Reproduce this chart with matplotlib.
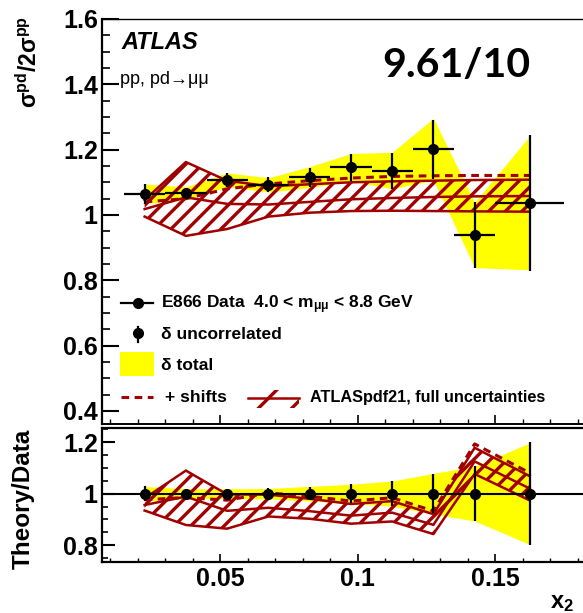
import matplotlib
matplotlib.use("Agg")
import matplotlib.pyplot as plt
import numpy as np
from matplotlib.lines import Line2D
from matplotlib.patches import Rectangle
from matplotlib.ticker import MultipleLocator, FuncFormatter

plt.rcParams["font.family"] = ["Liberation Sans", "DejaVu Sans"]
plt.rcParams["mathtext.default"] = "regular"
plt.rcParams["hatch.linewidth"] = 2.4

RED = "#a00000"
YELLOW = "#ffff00"

# E866 pd/2pp data
x2 = [0.0225, 0.0375, 0.0525, 0.0675, 0.0825, 0.0975, 0.1125, 0.1275, 0.1425, 0.1625]
x2_err = [0.0075, 0.0075, 0.0075, 0.0075, 0.0075, 0.0075, 0.0075, 0.0075, 0.0075, 0.0125]
ratio_data = [1.065, 1.066, 1.108, 1.092, 1.116, 1.146, 1.136, 1.201, 0.939, 1.037]
err_unc = [0.031, 0.018, 0.021, 0.023, 0.029, 0.042, 0.055, 0.090, 0.100, 0.209]
err_tot = [0.030, 0.020, 0.021, 0.022, 0.032, 0.042, 0.056, 0.095, 0.100, 0.205]

# ATLASpdf21 prediction
shifts = [1.040, 1.050, 1.080, 1.095, 1.105, 1.113, 1.118, 1.120, 1.121, 1.121]
pdf_up = [1.046, 1.162, 1.105, 1.088, 1.094, 1.100, 1.103, 1.105, 1.107, 1.108]
pdf_mid = [1.018, 1.054, 1.034, 1.032, 1.040, 1.048, 1.052, 1.055, 1.057, 1.058]
pdf_dn = [0.995, 0.936, 0.957, 0.995, 1.007, 1.012, 1.013, 1.012, 1.011, 1.010]

chi2_label = "9.61/10"

x = np.array(x2)
val = np.array(ratio_data)
unc = np.array(err_unc)
tot = np.array(err_tot)

W, H = 583, 613
fig = plt.figure(figsize=(W / 100, H / 100), dpi=100)


def fbox(l, t, r, b):
    return [l / W, 1 - b / H, (r - l) / W, (b - t) / H]


def fx(px):
    return px / W


def fy(py):
    return 1 - py / H


ax = fig.add_axes(fbox(102, 19, 598.4, 424))
axr = fig.add_axes(fbox(102, 427.7, 598.4, 561.7))


def draw_band(a, up, mid, dn):
    a.fill_between(x, dn, up, facecolor="none", edgecolor=RED, hatch="//", lw=0, zorder=2)
    for y in (up, mid, dn):
        a.plot(x, y, color=RED, lw=1.8, zorder=3)


# top panel
ax.fill_between(x, val - tot, val + tot, color=YELLOW, lw=0, zorder=1)
draw_band(ax, pdf_up, pdf_mid, pdf_dn)
ax.plot(x, shifts, color=RED, lw=2.2, ls=(0, (2.5, 1.8)), zorder=4)
ax.errorbar(x, val, xerr=x2_err, yerr=unc, fmt="o", color="k", ms=7,
            elinewidth=1.6, capsize=0, zorder=5)

# ratio panel
axr.fill_between(x, 1 - tot / val, 1 + tot / val, color=YELLOW, lw=0, zorder=1)
draw_band(axr, np.array(pdf_up) / val, np.array(pdf_mid) / val, np.array(pdf_dn) / val)
axr.plot(x, np.array(shifts) / val, color=RED, lw=2.2, ls=(0, (2.5, 1.8)), zorder=4)
axr.axhline(1, color="k", lw=1.5, zorder=5)
axr.errorbar(x, np.ones_like(x), yerr=unc / val, fmt="o", color="k", ms=7,
             elinewidth=1.6, capsize=0, zorder=6)

fmt = FuncFormatter(lambda v, p: "%g" % round(v, 3))
for a in (ax, axr):
    a.set_xlim(0.007, 0.1875)
    a.xaxis.set_major_locator(MultipleLocator(0.05))
    a.xaxis.set_minor_locator(MultipleLocator(0.01))
    a.yaxis.set_major_locator(MultipleLocator(0.2))
    a.yaxis.set_minor_locator(MultipleLocator(0.05))
    a.xaxis.set_major_formatter(fmt)
    a.yaxis.set_major_formatter(fmt)
    a.spines["right"].set_visible(False)
    a.tick_params(which="both", direction="in", top=False, right=False)

ax.set_ylim(0.36, 1.6)
axr.set_ylim(0.735, 1.257)

ax.tick_params(axis="y", which="major", length=12, width=1.5, labelsize=18, pad=3)
ax.tick_params(axis="y", which="minor", length=6, width=1.2)
ax.tick_params(axis="x", which="major", length=6.5, width=1.2, labelbottom=False)
ax.tick_params(axis="x", which="minor", length=3.5, width=1.0)
axr.tick_params(axis="y", which="major", length=9.5, width=1.5, labelsize=18, pad=3)
axr.tick_params(axis="y", which="minor", length=4.5, width=1.2)
axr.tick_params(axis="x", which="major", length=6, width=1.2, labelsize=18, pad=4)
axr.tick_params(axis="x", which="minor", length=3, width=1.0)

ax.spines["top"].set_linewidth(1.0)
ax.spines["left"].set_linewidth(1.6)
ax.spines["bottom"].set_linewidth(1.4)
for s in ("top", "left", "bottom"):
    axr.spines[s].set_linewidth(1.6)

for lab in ax.get_yticklabels() + axr.get_yticklabels() + axr.get_xticklabels():
    lab.set_fontweight("bold")

# axis titles
fig.text(fx(29), fy(16), r"$\sigma^{pd}$/2$\sigma^{pp}$", rotation=90, ha="center",
         va="top", fontsize=16.5, fontweight="bold")
fig.text(fx(23), fy(499), "Theory/Data", rotation=90, ha="center", va="center",
         fontsize=17.5, fontweight="bold")
fig.text(fx(574), fy(591), r"x$_2$", ha="right", va="top", fontsize=17, fontweight="bold")

# labels
fig.text(fx(121), fy(49), "ATLAS", fontsize=17, fontweight="bold", style="italic",
         va="baseline")
fig.text(fx(120), fy(84), "pp, pd→μμ", fontsize=13, va="baseline")
fig.text(fx(382), fy(77), chi2_label, fontsize=29.5, fontweight="bold", family="Lato",
         va="baseline")

# legend
leg_fs = 12.5
fig.add_artist(Line2D([fx(121), fx(153)], [fy(302.7), fy(302.7)], color="k", lw=1.6))
fig.add_artist(Line2D([fx(137.5)], [fy(302.7)], color="k", marker="o", ms=7, lw=0))
fig.text(fx(161), fy(308), r"E866 Data  4.0 < m$_{\mu\mu}$ < 8.8 GeV", fontsize=leg_fs,
         fontweight="bold", va="baseline")

fig.add_artist(Line2D([fx(138.3), fx(138.3)], [fy(326.7), fy(341.7)], color="k", lw=1.6))
fig.add_artist(Line2D([fx(138.3)], [fy(333.3)], color="k", marker="o", ms=7, lw=0))
fig.text(fx(161), fy(339), "δ uncorrelated", fontsize=leg_fs, fontweight="bold",
         va="baseline")

fig.add_artist(Rectangle((fx(120), fy(375.7)), fx(34.3), (375.7 - 352.3) / H,
                         facecolor=YELLOW, lw=0, transform=fig.transFigure))
fig.text(fx(161), fy(370), "δ total", fontsize=leg_fs, fontweight="bold", va="baseline")

fig.add_artist(Line2D([fx(121), fx(153)], [fy(396.5), fy(396.5)], color=RED, lw=2.2,
                      ls=(0, (2.5, 1.8))))
fig.text(fx(165), fy(402), "+ shifts", fontsize=leg_fs, fontweight="bold", va="baseline")

fig.add_artist(Rectangle((fx(248), fy(408)), fx(51), 18 / H, facecolor="none",
                         edgecolor=RED, hatch="/", lw=0, transform=fig.transFigure))
fig.add_artist(Line2D([fx(248), fx(299)], [fy(398), fy(398)], color=RED, lw=1.8))
fig.text(fx(310), fy(402), "ATLASpdf21, full uncertainties", fontsize=11.7,
         fontweight="bold", va="baseline")

fig.savefig("out.png", dpi=100)
